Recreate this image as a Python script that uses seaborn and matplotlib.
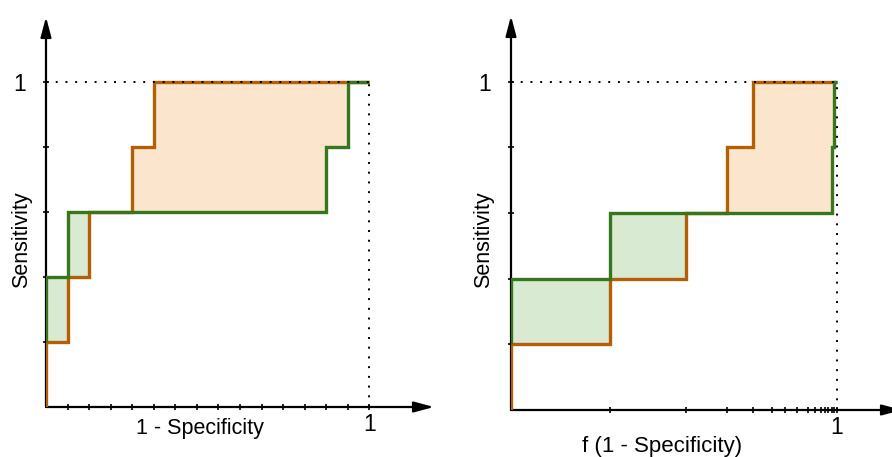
import numpy as np
import matplotlib
matplotlib.use("Agg")
import matplotlib.pyplot as plt
import seaborn as sns

sns.set_style("white")
plt.rcParams["font.family"] = ["Liberation Sans", "DejaVu Sans"]
plt.rcParams["text.color"] = "black"
plt.rcParams["axes.labelcolor"] = "black"
plt.rcParams["xtick.color"] = "black"
plt.rcParams["ytick.color"] = "black"

# ---------------- data ----------------
sens_ticks = [0.2, 0.4, 0.6, 0.8, 1.0]

# left panel: 1 - specificity (15 negatives)
left_xticks = [1/15, 2/15, 3/15, 4/15, 5/15, 6/15, 7/15, 8/15, 9/15, 10/15,
               11/15, 12/15, 13/15, 14/15, 15/15]
left_orange_x = [0, 0, 1/15, 2/15, 4/15, 5/15, 1]
left_orange_y = [0, 0.2, 0.4, 0.6, 0.8, 1.0, 1.0]
left_green_x = [0, 0, 1/15, 13/15, 14/15, 1]
left_green_y = [0.2, 0.4, 0.6, 0.8, 1.0, 1.0]

# right panel: f(1 - specificity), warped positions
right_xticks = [0.304, 0.537, 0.663, 0.742, 0.801, 0.840, 0.877, 0.911,
                0.933, 0.951, 0.963, 0.972, 0.985, 0.991, 1.0]
right_orange_x = [0, 0, 0.304, 0.537, 0.663, 0.742, 1]
right_orange_y = [0, 0.2, 0.4, 0.6, 0.8, 1.0, 1.0]
right_green_x = [0, 0, 0.304, 0.985, 0.991, 1]
right_green_y = [0.2, 0.4, 0.6, 0.8, 1.0, 1.0]

ORANGE = "#b45f06"
GREEN = "#38761d"
ORANGE_FILL = "#fce5cd"
GREEN_FILL = "#d9ead3"


def step_eval(xs, ys, grid):
    xs = np.asarray(xs, float)
    ys = np.asarray(ys, float)
    idx = np.searchsorted(xs, grid, side="right") - 1
    return ys[idx]


def draw_panel(ax, ox, oy, gx, gy, xticks, xlabel, xlab_xy, ylab_xy, xlab_size):
    grid = np.unique(np.concatenate([ox, gx]))
    o = step_eval(ox, oy, grid)
    g = step_eval(gx, gy, grid)
    top = np.maximum(o, g)
    ax.fill_between(grid, o, top, step="post", color=GREEN_FILL, lw=0, zorder=1)
    ax.fill_between(grid, g, top, step="post", color=ORANGE_FILL, lw=0, zorder=1)

    sns.lineplot(x=ox, y=oy, ax=ax, color=ORANGE, lw=2.4, drawstyle="steps-post",
                 estimator=None, sort=False, zorder=5, solid_joinstyle="miter",
                 solid_capstyle="butt")
    sns.lineplot(x=gx, y=gy, ax=ax, color=GREEN, lw=2.4, drawstyle="steps-post",
                 estimator=None, sort=False, zorder=6, solid_joinstyle="miter",
                 solid_capstyle="butt")

    # dotted guides
    ax.plot([0, 1], [1, 1], color="black", lw=1.4, ls=(0, (1, 4)), zorder=7)
    ax.plot([1, 1], [0, 1], color="black", lw=1.4, ls=(0, (1, 4)), zorder=7)

    ax.set_xlim(0, 1.2)
    ax.set_ylim(0, 1.2)
    for s in ax.spines.values():
        s.set_visible(False)

    # axis arrows
    arrow = dict(arrowstyle="-|>,head_length=0.75,head_width=0.2", lw=1.6,
                 color="black", shrinkA=0, shrinkB=0, mutation_scale=16)
    ax.annotate("", xy=(1.2, 0), xytext=(0, 0), xycoords="data",
                arrowprops=arrow, annotation_clip=False, zorder=3)
    ax.annotate("", xy=(0, 1.2), xytext=(0, 0), xycoords="data",
                arrowprops=arrow, annotation_clip=False, zorder=3)

    ax.set_xticks(xticks)
    ax.set_xticklabels(["1" if t == 1.0 else "" for t in xticks])
    ax.set_yticks(sens_ticks)
    ax.set_yticklabels(["1" if t == 1.0 else "" for t in sens_ticks])
    ax.tick_params(axis="both", direction="inout", length=5, width=1.2,
                   color="black", labelcolor="black", labelsize=16.5,
                   bottom=True, left=True)
    ax.tick_params(axis="x", pad=1.5)
    ax.tick_params(axis="y", pad=12)

    ax.set_xlabel(xlabel, fontsize=xlab_size, va="center", ha="center",
                  color="black")
    ax.xaxis.set_label_coords(*xlab_xy)
    ax.set_ylabel("Sensitivity", fontsize=15.5, va="center", ha="center",
                  color="black")
    ax.yaxis.set_label_coords(*ylab_xy)


fig = plt.figure(figsize=(8.92, 4.57), dpi=100)
ax1 = fig.add_axes([46 / 892, 50 / 457, 388 / 892, 390 / 457])
ax2 = fig.add_axes([511 / 892, 47 / 457, 391 / 892, 394 / 457])

draw_panel(ax1, left_orange_x, left_orange_y, left_green_x, left_green_y,
           left_xticks, "1 - Specificity", (0.396, -0.054), (-0.064, 0.428), 15.5)
draw_panel(ax2, right_orange_x, right_orange_y, right_green_x, right_green_y,
           right_xticks, "f (1 - Specificity)", (0.386, -0.0915), (-0.069, 0.432), 16)

fig.savefig("out.png", dpi=100, facecolor="white")
